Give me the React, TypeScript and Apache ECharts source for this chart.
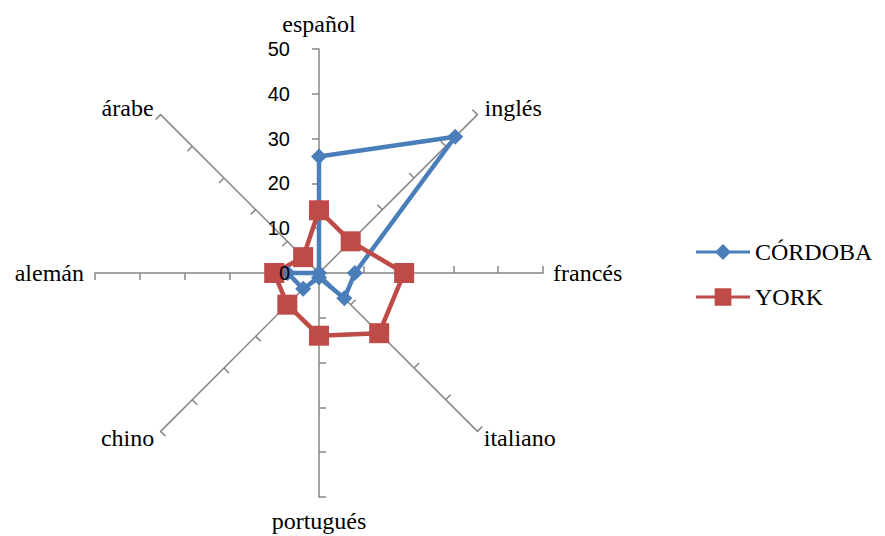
import React, { useEffect, useRef } from "react";
import * as echarts from "echarts";

// Languages, listed counterclockwise starting from the top spoke
const languages = ["español", "árabe", "alemán", "chino", "portugués", "italiano", "francés", "inglés"];
const cordoba = [26, 0, 7, 5, 1, 8, 8, 43];
const york = [14, 5, 10, 10, 14, 19, 19, 10];
const seriesNames = ["CÓRDOBA", "YORK"];
const axisMax = 50;

// Distance between each spoke's end and its name
const nameGaps = [13, 10, 11, 9, 12, 9, 10, 10];

const BLUE = "#4A7EBB";
const RED = "#BE4B48";
const AXIS = "#868686";
const SERIF = "Liberation Serif";
const SANS = "Liberation Sans";

const diamondIcon =
  "path://M0,8 L22,8 L29,1 L36,8 L58,8 L58,11 L36,11 L29,18 L22,11 L0,11 Z";
const squareIcon =
  "path://M0,8 L20,8 L20,0 L38,0 L38,8 L58,8 L58,11 L38,11 L38,19 L20,19 L20,11 L0,11 Z";

export default function App() {
  const ref = useRef<HTMLDivElement>(null);

  useEffect(() => {
    if (!ref.current) return;
    const chart = echarts.init(ref.current, null, { renderer: "svg" });

    const baseRadar = {
      center: [319, 273],
      radius: 224,
      startAngle: 90,
      splitNumber: 5,
      shape: "polygon",
      splitLine: { show: false },
      splitArea: { show: false },
    };

    // Spokes, ticks and category names
    const mainIndicator = languages.map((name, i) => ({
      name,
      min: 0,
      max: axisMax,
      nameGap: nameGaps[i],
    }));
    // Same geometry, only used to print the scale on the top spoke above the series
    const scaleIndicator = languages.map((name, i) => ({
      name,
      min: 0,
      max: axisMax,
      axisLabel: { show: i === 0 },
    }));

    chart.setOption({
      animation: false,
      backgroundColor: "#ffffff",
      legend: {
        orient: "vertical",
        left: 691,
        top: 235,
        itemWidth: 54,
        itemHeight: 18,
        itemGap: 21,
        textStyle: { fontFamily: SERIF, fontSize: 24, color: "#000" },
        data: [
          { name: seriesNames[0], icon: diamondIcon, itemStyle: { color: BLUE } },
          { name: seriesNames[1], icon: squareIcon, itemStyle: { color: RED } },
        ],
      },
      radar: [
        {
          ...baseRadar,
          indicator: mainIndicator,
          axisName: { color: "#000", fontFamily: SERIF, fontSize: 24 },
          nameGap: 10,
          axisLine: { show: true, lineStyle: { color: AXIS, width: 1.5 } },
          axisTick: { show: true, length: 7, lineStyle: { color: AXIS, width: 1.5 } },
          axisLabel: { show: false },
        },
        {
          ...baseRadar,
          z: 10,
          indicator: scaleIndicator,
          axisName: { show: false },
          axisLine: { show: false },
          axisTick: { show: false },
          axisLabel: { show: false, color: "#000", fontFamily: SANS, fontSize: 20, margin: 29 },
        },
      ],
      series: [
        {
          type: "radar",
          radarIndex: 0,
          data: [
            {
              name: seriesNames[0],
              value: cordoba,
              symbol: "diamond",
              symbolSize: 16,
              lineStyle: { color: BLUE, width: 4.5 },
              itemStyle: { color: BLUE },
            },
            {
              name: seriesNames[1],
              value: york,
              symbol: "rect",
              symbolSize: 20,
              lineStyle: { color: RED, width: 4.5 },
              itemStyle: { color: RED },
            },
          ],
        },
      ],
    });

    return () => chart.dispose();
  }, []);

  return (
    <div
      ref={ref}
      style={{ position: "fixed", left: 0, top: 0, width: 885, height: 536, background: "#fff" }}
    />
  );
}
